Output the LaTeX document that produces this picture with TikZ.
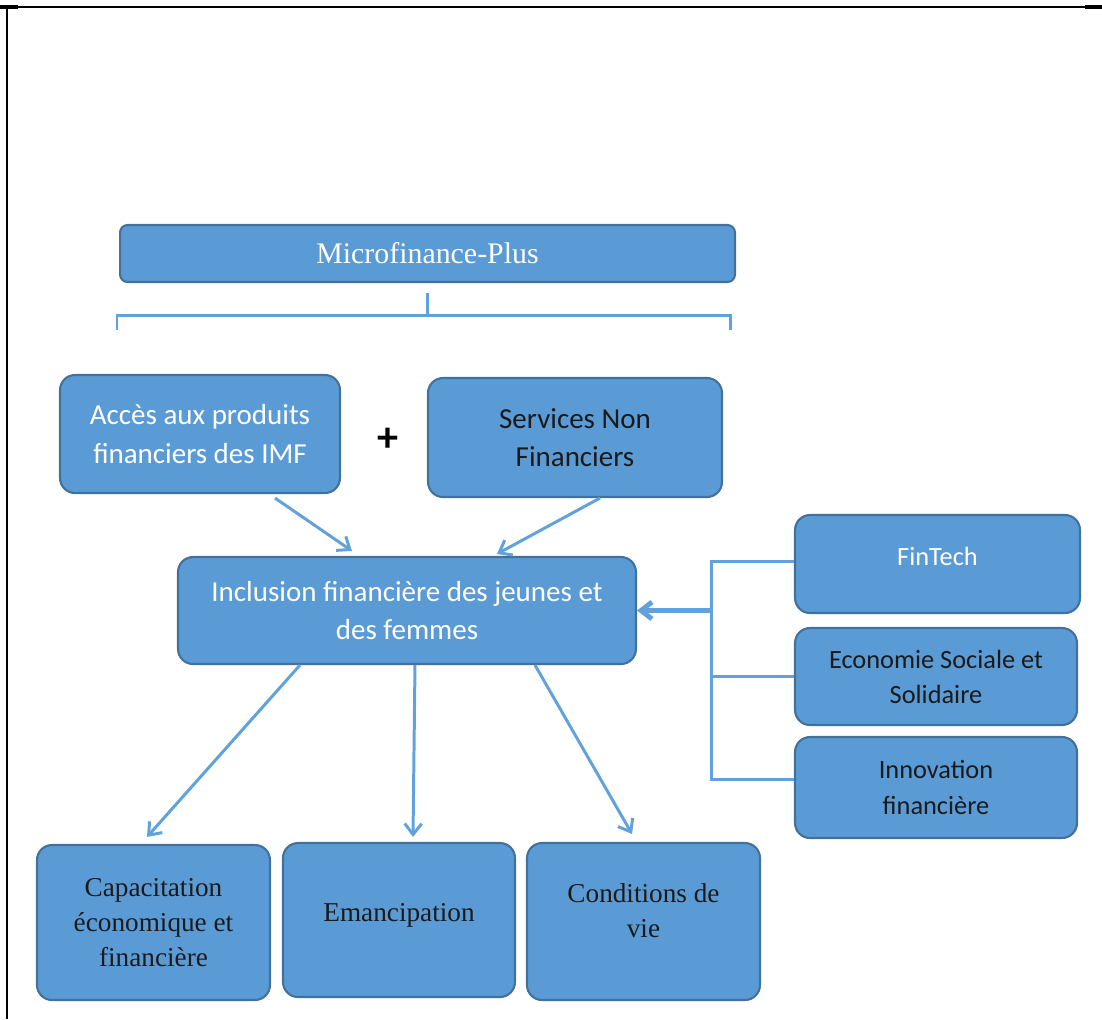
\documentclass[tikz,border=0pt]{standalone}
\usepackage{fontspec}
\setmainfont{Carlito}
\newfontfamily\serifcap{Liberation Serif}
\usetikzlibrary{arrows.meta,positioning,calc}

\definecolor{boxblue}{HTML}{5B9BD5}
\definecolor{boxedge}{HTML}{41719C}
\definecolor{linkblue}{HTML}{62A2DC}
\definecolor{inktext}{HTML}{1A1A1A}

\begin{document}
\begin{tikzpicture}[x=0.02cm,y=-0.02cm,>={Straight Barb[length=2.2mm,width=3.4mm]},
  box/.style={rectangle,rounded corners=0.3cm,fill=boxblue,draw=boxedge,line width=1.2pt,align=center,inner sep=2pt},
  topbox/.style={box,font=\fontsize{16.5}{22}\selectfont},
  sidebox/.style={box,font=\fontsize{15}{20}\selectfont},
  outbox/.style={box,font=\serifcap\fontsize{15.5}{20}\selectfont,text=inktext},
  link/.style={draw=linkblue,line width=1.7pt}]

\useasboundingbox (0,0) rectangle (1102,1019);

% cadre
\draw[line width=1.1pt] (0,7) -- (1102,7);
\draw[line width=2.6pt] (0,7) -- (18,7) (1085,7) -- (1102,7);
\draw[line width=1.1pt] (7,7) -- (7,1019);

% Microfinance-Plus et accolade
\node[box,rounded corners=0.15cm,minimum width=12.3cm,minimum height=1.14cm,
  font=\serifcap\fontsize{17}{20}\selectfont,text=white] (micro) at (427.5,253.5) {\raisebox{-0.08cm}{Microfinance-Plus}};
\coordinate (bl) at (117,315);
\coordinate (br) at (730,315);
\draw[link] ([yshift=-0.2cm]micro.south) -- (micro.south |- bl);
\draw[link] ([yshift=-0.3cm]bl) -- (bl) -- (br) -- ([yshift=-0.3cm]br);

% les deux leviers
\node[topbox,minimum width=5.6cm,minimum height=2.36cm,text=white] (acces) at (200,434)
  {Accès aux produits\\financiers des IMF};
\node[topbox,minimum width=5.88cm,minimum height=2.38cm,text=inktext] (services) at (575,437.5)
  {Services Non\\Financiers};
\node[font=\bfseries\fontsize{24}{24}\selectfont] (plus) at (388,440) {+};

% inclusion
\node[topbox,minimum width=9.16cm,minimum height=2.14cm,text=white] (inclusion) at (407,610.5)
  {Inclusion financière des jeunes et\\des femmes};
\draw[link,->] ([xshift=1.5cm,yshift=-0.08cm]acces.south) -- ([xshift=-1.1cm,yshift=0.1cm]inclusion.north);
\draw[link,->] ([xshift=0.5cm]services.south) -- ([xshift=1.8cm,yshift=0.04cm]inclusion.north);

% facteurs a droite
\node[sidebox,minimum width=5.7cm,minimum height=1.96cm,text=white] (fintech) at (937.5,564)
  {\raisebox{0.32cm}{FinTech}};
\node[sidebox,minimum width=5.64cm,minimum height=1.94cm,text=inktext] (ess) at (936,676.5)
  {Economie Sociale et\\Solidaire};
\node[sidebox,minimum width=5.64cm,minimum height=2.02cm,text=inktext] (innov) at (936,787.5)
  {Innovation\\financière};
\coordinate (bus) at (711,610.5);
\draw[link] ([yshift=0.06cm]fintech.west) -- ([yshift=0.06cm]fintech.west -| bus)
  -- ([yshift=0.17cm]innov.west -| bus) -- ([yshift=0.17cm]innov.west);
\draw[link] (ess.west) -- (ess.west -| bus);
\draw[link,line width=2.8pt,->] (bus) -- (inclusion.east);

% effets
\node[outbox,minimum width=4.66cm,minimum height=3.1cm] (capa) at (153.5,922.5)
  {Capacitation\\économique et\\financière};
\node[outbox,minimum width=4.64cm,minimum height=3.08cm] (eman) at (399,920)
  {\raisebox{0.3cm}{Emancipation}};
\node[outbox,minimum width=4.66cm,minimum height=3.14cm] (cond) at (643.5,921.5)
  {Conditions de\\vie\\[-0.28cm]};
\draw[link,->] ([xshift=-2.14cm]inclusion.south) -- ([xshift=-0.13cm,yshift=0.14cm]capa.north);
\draw[link,->] ([xshift=0.16cm]inclusion.south) -- ([xshift=0.28cm,yshift=0.1cm]eman.north);
\draw[link,->] ([xshift=2.56cm]inclusion.south) -- ([xshift=-0.23cm,yshift=0.16cm]cond.north);

\end{tikzpicture}
\end{document}
